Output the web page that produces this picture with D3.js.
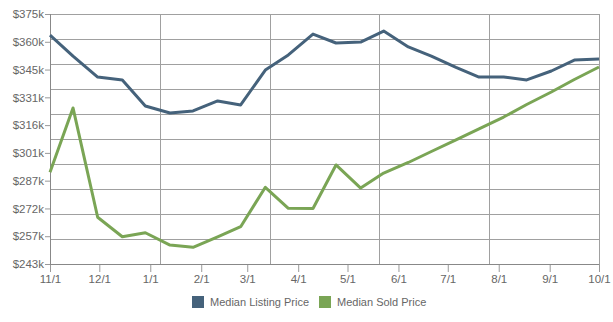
<!DOCTYPE html>
<html>
<head>
<meta charset="utf-8">
<script src="https://cdn.jsdelivr.net/npm/d3@7"></script>
<style>
  html, body { margin: 0; padding: 0; background: #fff; }
  svg text { font-family: "Liberation Sans", Arial, Helvetica, sans-serif; }
</style>
</head>
<body>
<svg id="chart" width="613" height="322"></svg>
<script>
const dates = ["2012-11-01","2012-11-15","2012-11-30","2012-12-15","2012-12-29","2013-01-13",
  "2013-01-27","2013-02-11","2013-02-25","2013-03-12","2013-03-26","2013-04-10",
  "2013-04-24","2013-05-09","2013-05-23","2013-06-07","2013-06-21","2013-07-06",
  "2013-07-20","2013-08-04","2013-08-18","2013-09-02","2013-09-16","2013-10-01"];
const listingPrice = [363.9,352.8,341.7,340.2,326.4,322.7,323.8,329.1,327.0,345.4,353.4,364.4,
  359.7,360.2,366.0,357.6,352.8,346.8,341.7,341.7,340.2,344.9,350.7,351.2];
const soldPrice = [291.4,325.4,267.7,257.4,259.5,253.0,251.8,257.3,262.7,283.5,272.4,272.3,
  295.3,283.1,291.0,296.6,302.4,308.5,314.3,320.6,327.2,333.8,340.4,347.0];
const yTickValues = [243,257.67,272.33,287,301.67,316.33,331,345.67,360.33,375];
const xTickLabels = ["11/1","12/1","1/1","2/1","3/1","4/1","5/1","6/1","7/1","8/1","9/1","10/1"];
const seriesNames = ["Median Listing Price","Median Sold Price"];
const seriesColors = ["#45627b","#7aa555"];

const svg = d3.select("#chart");
const m = {left: 50, right: 14, top: 14, bottom: 58};
const W = 613, H = 322;
const iw = W - m.left - m.right, ih = H - m.top - m.bottom;
const parse = d3.timeParse("%Y-%m-%d");
const dts = dates.map(parse);

const x = d3.scaleTime().domain([dts[0], dts[dts.length-1]]).range([0, iw]);
const y = d3.scaleLinear().domain([243, 375]).range([ih, 0]);
const g = svg.append("g").attr("transform", `translate(${m.left},${m.top})`);

const gridColor = "#a0a0a0";
// horizontal grid: 10 equal bands
const hg = d3.range(0, 11).map(i => i / 10);
g.selectAll("line.hg").data(hg).enter().append("line")
  .attr("x1", 0).attr("x2", iw)
  .attr("y1", d => Math.round(d * ih) + 0.5).attr("y2", d => Math.round(d * ih) + 0.5)
  .attr("stroke", gridColor).attr("stroke-width", 1);
// vertical grid: 5 equal bands
const vg = d3.range(0, 6).map(i => i / 5);
g.selectAll("line.vg").data(vg).enter().append("line")
  .attr("y1", 0).attr("y2", ih)
  .attr("x1", d => Math.round(d * iw) + 0.5).attr("x2", d => Math.round(d * iw) + 0.5)
  .attr("stroke", gridColor).attr("stroke-width", 1);

// y axis
const yAxis = d3.axisLeft(y).tickValues(yTickValues).tickSize(5).tickPadding(1)
  .tickFormat(d => "$" + Math.floor(d + 1e-6) + "k");
const ya = g.append("g").call(yAxis);
ya.select(".domain").remove();
ya.selectAll(".tick line").attr("stroke", "#999");
ya.selectAll(".tick text").attr("fill", "#666").style("font-size", "11.5px");

// x axis
const xTickDates = xTickLabels.map((l, i) => new Date(2012, 10 + i, 1));
const xAxis = d3.axisBottom(x).tickValues(xTickDates).tickSize(8).tickPadding(3)
  .tickFormat((d, i) => xTickLabels[i]);
const xa = g.append("g").attr("transform", `translate(0,${ih})`).call(xAxis);
xa.select(".domain").remove();
xa.selectAll(".tick line").attr("stroke", "#999");
xa.selectAll(".tick text").attr("fill", "#666").style("font-size", "11.5px");

// axis lines
g.append("line").attr("x1", 0.5).attr("x2", 0.5).attr("y1", 0).attr("y2", ih).attr("stroke", "#888");
g.append("line").attr("x1", 0).attr("x2", iw).attr("y1", ih + 0.5).attr("y2", ih + 0.5).attr("stroke", "#888");

const line = d3.line().x((d, i) => x(dts[i])).y(d => y(d));
[listingPrice, soldPrice].forEach((s, k) => {
  g.append("path").datum(s).attr("d", line)
    .attr("fill", "none").attr("stroke", seriesColors[k])
    .attr("stroke-width", 3).attr("stroke-linejoin", "round");
});

// legend
const legX = [192, 319];
const leg = svg.append("g");
seriesNames.forEach((n, k) => {
  leg.append("rect").attr("x", legX[k]).attr("y", 296).attr("width", 12).attr("height", 12)
    .attr("fill", seriesColors[k]);
  leg.append("text").attr("x", legX[k] + 18).attr("y", 302).attr("dy", "0.35em")
    .attr("fill", "#666").style("font-size", "11px").text(n);
});
</script>
</body>
</html>
